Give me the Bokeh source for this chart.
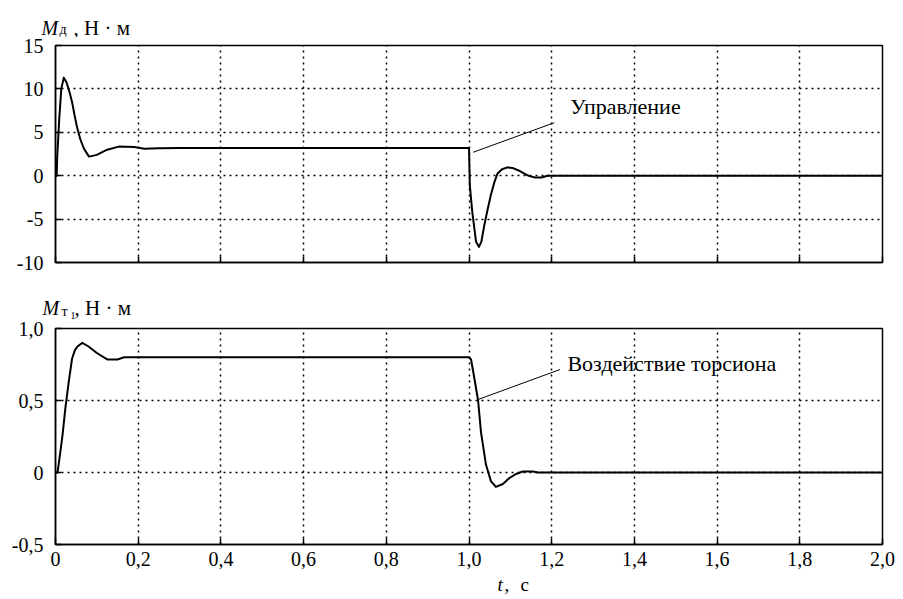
from bokeh.plotting import figure
from bokeh.models import Range1d, FixedTicker, Label
from bokeh.layouts import column
from bokeh.embed import file_html
from bokeh.resources import INLINE

# ---------------- data ----------------
# Top: motor torque M_d, N*m
t_top = [0.0, 0.003, 0.004, 0.009, 0.014, 0.02, 0.027, 0.034, 0.040, 0.046, 0.052, 0.060,
         0.069, 0.081, 0.100, 0.125, 0.153, 0.19, 0.215, 0.25, 0.30,
         1.0, 1.001, 1.002, 1.008, 1.013, 1.017, 1.024, 1.030, 1.037, 1.045, 1.053, 1.061,
         1.069, 1.080, 1.093, 1.105, 1.120, 1.135, 1.146, 1.160, 1.175, 1.19, 2.0]
m_top = [0.0, 0.0, 2.0, 6.5, 10.0, 11.3, 10.7, 9.6, 8.5, 7.0, 5.6, 4.2,
         3.1, 2.2, 2.4, 3.0, 3.35, 3.3, 3.1, 3.15, 3.2,
         3.2, 1.0, -1.1, -4.2, -6.1, -7.6, -8.2, -7.6, -5.7, -3.9, -2.2, -0.8,
         0.25, 0.75, 0.96, 0.9, 0.6, 0.2, -0.05, -0.2, -0.2, 0.0, 0.0]

# Bottom: torsion torque M_t1, N*m
t_bot = [0.0, 0.005, 0.012, 0.017, 0.024, 0.032, 0.040, 0.047, 0.053, 0.065, 0.080, 0.100,
         0.125, 0.150, 0.166, 1.0, 1.005, 1.012, 1.022, 1.029, 1.041, 1.053, 1.065,
         1.082, 1.097, 1.114, 1.130, 1.155, 1.167, 2.0]
m_bot = [0.0, 0.0, 0.15, 0.26, 0.45, 0.63, 0.79, 0.85, 0.875, 0.9, 0.875, 0.83,
         0.785, 0.785, 0.8, 0.8, 0.785, 0.67, 0.50, 0.28, 0.055, -0.06, -0.10,
         -0.08, -0.04, -0.01, 0.007, 0.007, 0.0, 0.0]

x_ticks = [0.0, 0.2, 0.4, 0.6, 0.8, 1.0, 1.2, 1.4, 1.6, 1.8, 2.0]
x_tick_labels = ["0", "0,2", "0,4", "0,6", "0,8", "1,0", "1,2", "1,4", "1,6", "1,8", "2,0"]
y_top_ticks = [-10, -5, 0, 5, 10, 15]
y_top_labels = ["-10", "-5", "0", "5", "10", "15"]
y_bot_ticks = [-0.5, 0.0, 0.5, 1.0]
y_bot_labels = ["-0,5", "0", "0,5", "1,0"]

FONT = "'Liberation Serif', 'DejaVu Serif', serif"
FS = "20px"
W = 895


def style(p, yt, yl, show_x_labels):
    p.background_fill_color = "white"
    p.border_fill_color = "white"
    p.outline_line_color = "black"
    p.outline_line_width = 1.5
    for ax in (p.xaxis[0], p.yaxis[0]):
        ax.axis_line_color = "black"
        ax.axis_line_width = 1.5
        ax.major_tick_in = 6
        ax.major_tick_out = 0
        ax.major_tick_line_width = 1.5
        ax.major_tick_line_color = "black"
        ax.minor_tick_in = 0
        ax.minor_tick_out = 0
        ax.major_label_text_font = FONT
        ax.major_label_text_font_size = FS
        ax.major_label_text_color = "black"
    p.xaxis[0].ticker = FixedTicker(ticks=x_ticks)
    if show_x_labels:
        p.xaxis[0].major_label_overrides = {k: v for k, v in zip(x_ticks, x_tick_labels)}
        p.xaxis[0].major_label_standoff = 7
    else:
        p.xaxis[0].major_label_overrides = {k: "" for k in x_ticks}
        p.xaxis[0].major_label_text_font_size = "6px"
        p.xaxis[0].major_label_standoff = 0
    p.yaxis[0].ticker = FixedTicker(ticks=yt)
    p.yaxis[0].major_label_overrides = {k: v for k, v in zip(yt, yl)}
    p.yaxis[0].major_label_standoff = 12
    for g in (p.xgrid[0], p.ygrid[0]):
        g.grid_line_color = "black"
        g.grid_line_dash = "2 4"
        g.grid_line_width = 1.5
        g.grid_line_alpha = 1.0


def header(h):
    f = figure(width=W, height=h, x_range=Range1d(0, W), y_range=Range1d(h, 0),
               output_backend="svg", toolbar_location=None,
               x_axis_location=None, y_axis_location=None,
               min_border=0, min_border_left=0, min_border_right=0,
               min_border_top=0, min_border_bottom=0)
    f.title = None
    f.frame_align = False
    f.xgrid.visible = False
    f.ygrid.visible = False
    f.outline_line_color = None
    f.background_fill_color = "white"
    f.border_fill_color = "white"
    return f


def lab(f, x, y, text, size, italic=False, baseline="alphabetic"):
    f.add_layout(Label(x=x, y=y, text=text, text_font=FONT, text_font_size=size,
                       text_font_style="italic" if italic else "normal",
                       text_baseline=baseline, text_color="black"))


# ---------------- header 1: M_д, Н · м ----------------
h1 = header(37)
lab(h1, 41, 27, "M", "20px", True)
lab(h1, 59, 29, "д", "14px")
lab(h1, 73, 27, ", Н · м", "21px")

# ---------------- top figure ----------------
p1 = figure(width=W, height=237, x_range=Range1d(0, 2.0), y_range=Range1d(-10, 15),
            output_backend="svg", toolbar_location=None,
            min_border_left=55, min_border_right=13, min_border_top=8, min_border_bottom=12)
style(p1, y_top_ticks, y_top_labels, False)
p1.line(t_top, m_top, line_color="black", line_width=2, line_join="round")
p1.segment(x0=[1.01], y0=[2.7], x1=[1.206], y1=[6.1], line_color="black", line_width=1)
p1.add_layout(Label(x=1.245, y=7.95, text="Управление", text_font=FONT, text_font_size="22px",
                    text_baseline="middle", text_color="black"))

# ---------------- header 2: M_т1, Н · м ----------------
h2 = header(47)
lab(h2, 42, 33, "M", "20px", True)
lab(h2, 61, 37, "т", "14px")
lab(h2, 70, 41, "1", "10px")
lab(h2, 74, 33, ", Н · м", "21px")

# ---------------- bottom figure ----------------
p2 = figure(width=W, height=253, x_range=Range1d(0, 2.0), y_range=Range1d(-0.5, 1.0),
            output_backend="svg", toolbar_location=None,
            min_border_left=55, min_border_right=13, min_border_top=7, min_border_bottom=30)
style(p2, y_bot_ticks, y_bot_labels, True)
p2.line(t_bot, m_bot, line_color="black", line_width=2, line_join="round")
p2.segment(x0=[1.022], y0=[0.507], x1=[1.220], y1=[0.715], line_color="black", line_width=1)
p2.add_layout(Label(x=1.238, y=0.757, text="Воздействие торсиона", text_font=FONT,
                    text_font_size="22px", text_baseline="middle", text_color="black"))

# ---------------- footer: t, с ----------------
h3 = header(23)
lab(h3, 497, 9.5, "t", "19px", True, "middle")
lab(h3, 504, 9.5, ",", "19px", False, "middle")
lab(h3, 520, 9.5, "с", "19px", False, "middle")

layout = column(h1, p1, h2, p2, h3, spacing=0)
open("out.html", "w").write(file_html(layout, INLINE))
